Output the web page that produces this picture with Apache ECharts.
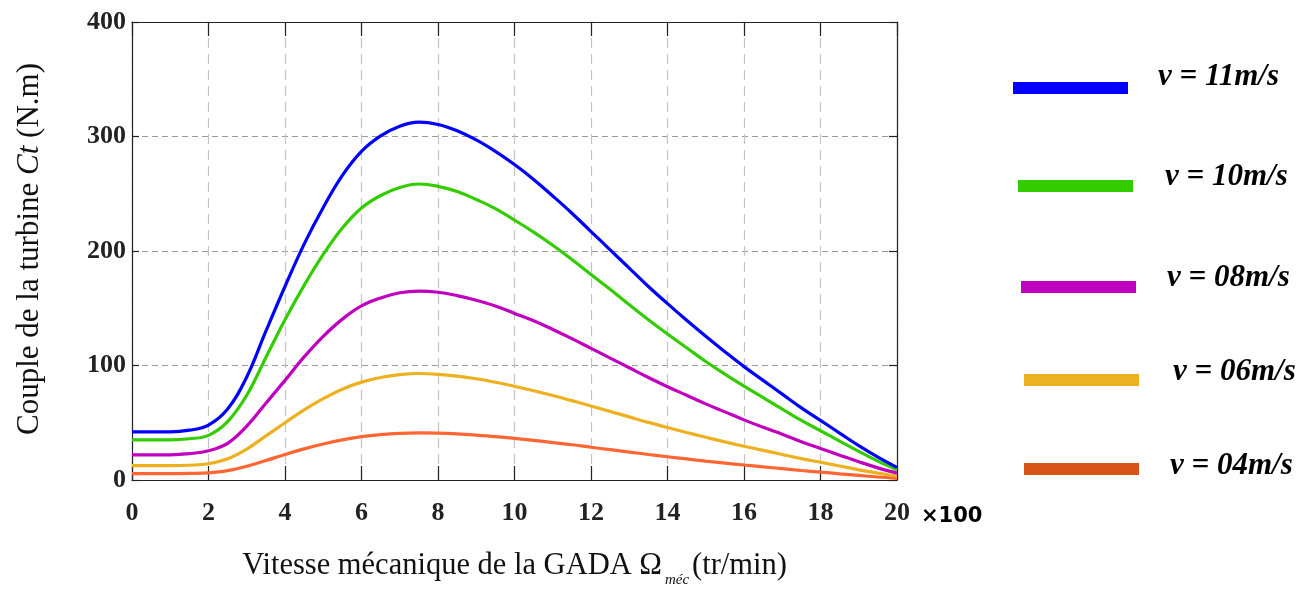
<!DOCTYPE html>
<html>
<head>
<meta charset="utf-8">
<script src="https://cdn.jsdelivr.net/npm/echarts@6/dist/echarts.min.js"></script>
<style>
  html, body { margin: 0; padding: 0; background: #ffffff; }
  #chart { width: 1316px; height: 590px; }
</style>
</head>
<body>
<div id="chart"></div>
<script>
// Mechanical speed (×100 tr/min)
const speed = [0, 0.5, 1, 1.5, 2, 2.5, 3, 3.5, 4, 4.5, 5, 5.5, 6, 6.5, 7, 7.5, 8, 8.5, 9, 9.5,
  10, 10.5, 11, 11.5, 12, 12.5, 13, 13.5, 14, 14.5, 15, 15.5, 16, 16.5, 17, 17.5, 18, 18.5, 19, 19.5, 20];

// Turbine torque Ct (N.m) for each wind speed
const torque11 = [42, 42, 42, 43.5, 48, 62, 90, 130, 169, 206, 238, 266, 287, 300.5, 309, 312.5, 310.5, 305, 297, 287,
  275.5, 262.5, 248, 233, 217, 201, 185, 169, 154, 139.5, 125.5, 112, 99, 87, 75, 63, 52, 41, 30, 20, 11];
const torque10 = [35, 35, 35, 36, 39, 51, 74, 107, 140, 170, 197, 220, 237.5, 248.5, 255.5, 258.5, 256.5, 252, 245, 237,
  227, 216.5, 205, 192.5, 179.5, 166.5, 153, 140, 127.5, 115.5, 103.5, 92.5, 82, 72, 62, 52, 43, 34, 25, 16.5, 9];
const torque08 = [22, 22, 22, 23, 25.5, 32, 47, 67, 87, 107.5, 125.5, 140.5, 152, 159, 163.5, 165, 164, 161, 157, 152,
  145.5, 139, 131.5, 123.5, 115, 106.5, 98, 89.5, 81.5, 74, 66.5, 59.5, 52.5, 46, 40, 33.5, 27.5, 21.7, 16, 10.6, 6];
const torque06 = [12.5, 12.5, 12.5, 12.9, 14.2, 18.5, 27, 38.5, 50, 61.3, 71, 79.3, 85.5, 89.5, 92, 93, 92.3, 90.7, 88.4, 85.4,
  81.8, 78, 73.8, 69.3, 64.6, 59.9, 55.1, 50.3, 45.8, 41.5, 37.3, 33.3, 29.5, 25.9, 22.3, 18.7, 15.5, 12.2, 8.9, 6, 3.3];
const torque04 = [5.5, 5.5, 5.5, 5.7, 6.3, 8.2, 12, 17, 22.3, 27.2, 31.4, 35.1, 37.9, 39.7, 40.8, 41.2, 41, 40.3, 39.2, 37.9,
  36.3, 34.6, 32.7, 30.8, 28.6, 26.5, 24.4, 22.3, 20.3, 18.4, 16.5, 14.8, 13.1, 11.5, 9.9, 8.3, 6.9, 5.4, 4, 2.6, 1.5];

const seriesNames = ['v = 11m/s', 'v = 10m/s', 'v = 08m/s', 'v = 06m/s', 'v = 04m/s'];
const seriesValues = [torque11, torque10, torque08, torque06, torque04];
const lineColors = ['#0000ff', '#33cc00', '#bf00bf', '#edb120', '#ff6633'];
const keyColors = ['#0000ff', '#33cc00', '#bf00bf', '#edb120', '#d95319'];

const xTicks = [0, 2, 4, 6, 8, 10, 12, 14, 16, 18, 20];
const yTicks = [0, 100, 200, 300, 400];

const chart = echarts.init(document.getElementById('chart'), null, { renderer: 'canvas' });

const tickFont = { fontFamily: 'Liberation Serif', fontWeight: 'bold', fontSize: 26, color: '#222' };

// Key (legend) placement: bar box and label anchor for each series
const keyLayout = [
  { bx: 1013, by: 82, tx: 1158, ty: 77 },
  { bx: 1018, by: 180, tx: 1165, ty: 177 },
  { bx: 1021, by: 281, tx: 1167, ty: 278 },
  { bx: 1024, by: 374, tx: 1173, ty: 372 },
  { bx: 1024, by: 463, tx: 1170, ty: 466 }
];

const keyGraphics = [];
seriesNames.forEach((name, i) => {
  const k = keyLayout[i];
  keyGraphics.push({
    type: 'rect', left: k.bx, top: k.by,
    shape: { width: 115, height: 12 },
    style: { fill: keyColors[i] }
  });
  keyGraphics.push({
    type: 'text', x: k.tx, y: k.ty,
    style: {
      text: name, fill: '#000',
      font: 'italic bold 31px "Liberation Serif"',
      verticalAlign: 'middle', align: 'left'
    }
  });
});

const option = {
  backgroundColor: '#ffffff',
  animation: false,
  grid: { left: 132, right: 419, top: 22, bottom: 110, show: false },
  xAxis: [
    {
      type: 'value', min: 0, max: 20, interval: 2, position: 'bottom',
      axisLine: { show: true, lineStyle: { color: '#222', width: 1.2 } },
      axisTick: { show: true, inside: true, length: 14, lineStyle: { color: '#222', width: 1.2 } },
      axisLabel: Object.assign({ margin: 20 }, tickFont),
      splitLine: { show: true, lineStyle: { color: '#c4c4c4', type: [10, 6], width: 1.2 } }
    },
    {
      type: 'value', min: 0, max: 20, interval: 2, position: 'top',
      axisLine: { show: true, onZero: false, lineStyle: { color: '#222', width: 1.2 } },
      axisTick: { show: true, inside: true, length: 14, lineStyle: { color: '#222', width: 1.2 } },
      axisLabel: { show: false },
      splitLine: { show: false }
    }
  ],
  yAxis: [
    {
      type: 'value', min: 0, max: 400, interval: 100, position: 'left',
      axisLine: { show: true, lineStyle: { color: '#222', width: 1.2 } },
      axisTick: { show: true, inside: true, length: 7, lineStyle: { color: '#222', width: 1.2 } },
      axisLabel: Object.assign({ margin: 6 }, tickFont),
      splitLine: { show: true, lineStyle: { color: '#9a9a9a', type: [6, 4], width: 1.2 } }
    },
    {
      type: 'value', min: 0, max: 400, interval: 100, position: 'right',
      axisLine: { show: true, onZero: false, lineStyle: { color: '#222', width: 1.2 } },
      axisTick: { show: true, inside: true, length: 8, lineStyle: { color: '#222', width: 1.2 } },
      axisLabel: { show: false },
      splitLine: { show: false }
    }
  ],
  series: seriesNames.map((name, i) => ({
    name: name,
    type: 'line',
    xAxisIndex: 0,
    yAxisIndex: 0,
    data: speed.map((x, j) => [x, seriesValues[i][j]]),
    showSymbol: false,
    smooth: 0.4,
    lineStyle: { color: lineColors[i], width: 3.2 },
    itemStyle: { color: lineColors[i] },
    z: 10 - i
  })),
  graphic: [
    // Y axis title
    {
      type: 'text', x: 30, y: 249, rotation: Math.PI / 2,
      style: {
        text: '{n|Couple de la turbine }{i|Ct}{n| (N.m)}',
        align: 'center', verticalAlign: 'middle',
        rich: {
          n: { font: '31px "Liberation Serif"', fill: '#111' },
          i: { font: 'italic 31px "Liberation Serif"', fill: '#111' }
        }
      }
    },
    // X axis title with subscript
    {
      type: 'text', x: 662, y: 566,
      style: {
        text: 'Vitesse mécanique de la GADA Ω',
        font: '30.5px "Liberation Serif"', fill: '#111',
        align: 'right', verticalAlign: 'middle'
      }
    },
    {
      type: 'text', x: 665, y: 580,
      style: {
        text: 'méc', font: 'italic 15px "Liberation Serif"', fill: '#111',
        align: 'left', verticalAlign: 'middle'
      }
    },
    {
      type: 'text', x: 692, y: 566,
      style: {
        text: '(tr/min)', font: '30.5px "Liberation Serif"', fill: '#111',
        align: 'left', verticalAlign: 'middle'
      }
    },
    // Scale multiplier next to the x axis
    {
      type: 'text', x: 921, y: 517,
      style: {
        text: '×100', font: 'bold 21px "DejaVu Sans"', fill: '#000',
        align: 'left', verticalAlign: 'middle'
      }
    }
  ].concat(keyGraphics)
};

chart.setOption(option);
</script>
</body>
</html>
